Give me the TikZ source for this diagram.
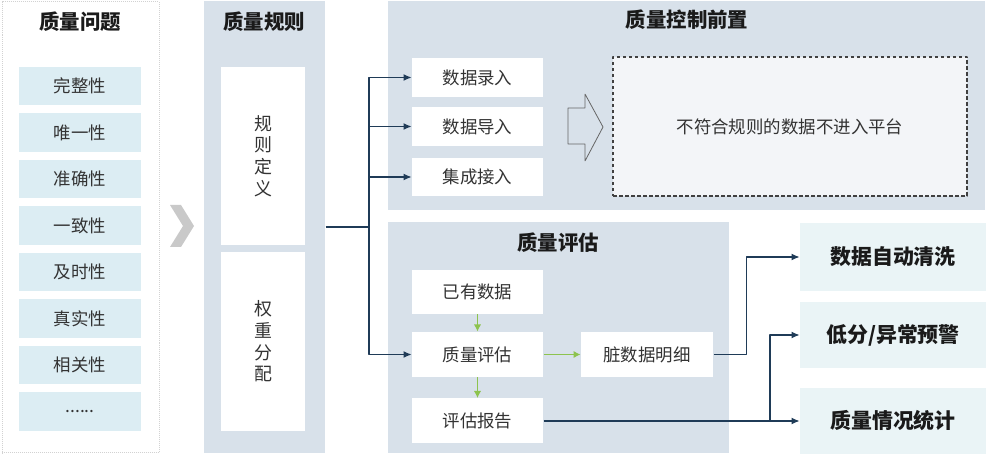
\documentclass[tikz,border=0pt]{standalone}
\usepackage{fontspec}
\setmainfont{Noto Sans CJK SC}
\usepackage{tikz}
\usetikzlibrary{shapes,arrows,arrows.meta,positioning,calc}

\definecolor{panelcol}{HTML}{D8E1EA}
\definecolor{issuecol}{HTML}{DCEDF3}
\definecolor{resultcol}{HTML}{EAF4F6}
\definecolor{dashfill}{HTML}{F3F5F8}
\definecolor{navycol}{HTML}{1F3B57}
\definecolor{greencol}{HTML}{8DC34E}
\definecolor{chevcol}{HTML}{C9C9C9}
\definecolor{textcol}{HTML}{333333}
\definecolor{titlecol}{HTML}{1A1A1A}

\begin{document}
\begin{tikzpicture}[>={Latex[length=8bp,width=7bp]},line join=bevel,
  panel/.style={fill=panelcol,draw=none,inner sep=0pt},
  titletext/.style={text=titlecol,font=\fontsize{20.5}{24}\selectfont\bfseries},
  issuebox/.style={fill=issuecol,draw=none,inner sep=0pt,minimum width=122bp,minimum height=38.5bp,text=textcol,font=\fontsize{17.5}{21}\selectfont},
  wbox/.style={fill=white,draw=none,inner sep=0pt,minimum width=131bp,text=textcol,font=\fontsize{17.5}{21}\selectfont},
  resultbox/.style={fill=resultcol,draw=none,inner sep=0pt,minimum width=186bp,text=titlecol,font=\fontsize{21}{25}\selectfont\bfseries},
  navyline/.style={draw=navycol,line width=1.1bp},
  navyarrow/.style={navyline,->},
  greenarrow/.style={draw=greencol,line width=1.4bp,-{Latex[length=7bp,width=7.5bp]}},
]
\pgfsetlinewidth{1bp}
\useasboundingbox (0bp,0bp) rectangle (987bp,456bp);

\node[draw=gray!35,densely dotted,fill=white,inner sep=0pt,minimum width=157bp,minimum height=451bp] (issuepanel) at (80.5bp,228.5bp) {};
\node[titletext] (issuetitle) at (80bp,434bp) {质量问题};
\node[issuebox] (issue1) at (80bp,370bp) {完整性};
\node[issuebox] (issue2) at (80bp,323.5bp) {唯一性};
\node[issuebox] (issue3) at (80bp,277bp) {准确性};
\node[issuebox] (issue4) at (80bp,230.5bp) {一致性};
\node[issuebox] (issue5) at (80bp,184bp) {及时性};
\node[issuebox] (issue6) at (80bp,137.5bp) {真实性};
\node[issuebox] (issue7) at (80bp,91bp) {相关性};
\node[issuebox] (issue8) at (80bp,44.5bp) {......};

\fill[chevcol] (170bp,251bp) -- (181bp,251bp) -- (194bp,230bp) -- (181bp,209bp) -- (170bp,209bp) -- (183bp,230bp) -- cycle;

\node[panel,minimum width=121bp,minimum height=452bp] (rulepanel) at (264.5bp,229bp) {};
\node[titletext] (ruletitle) at (264bp,434bp) {质量规则};
\node[wbox,minimum width=84bp,minimum height=178bp,align=center,font=\fontsize{18}{21.7}\selectfont] (ruledef) at (263bp,300bp) {规\\则\\定\\义};
\node[wbox,minimum width=84bp,minimum height=179bp,align=center,font=\fontsize{18}{21.7}\selectfont] (weight) at (263bp,114.5bp) {权\\重\\分\\配};

\node[panel,minimum width=597bp,minimum height=209bp] (prepanel) at (686.5bp,350.5bp) {};
\node[titletext] (pretitle) at (687bp,436bp) {质量控制前置};
\node[wbox,minimum height=39bp] (entry) at (477.5bp,378.5bp) {数据录入};
\node[wbox,minimum height=39bp] (import) at (477.5bp,329.5bp) {数据导入};
\node[wbox,minimum height=38bp] (integ) at (477.5bp,279bp) {集成接入};
\draw[draw=black!60,line width=0.8bp] (568bp,348bp) -- (585bp,348bp) -- (585bp,362bp) -- (603bp,329bp) -- (585bp,295bp) -- (585bp,312bp) -- (568bp,312bp) -- cycle;
\node[draw=black!75,dash pattern=on 3.5bp off 2.5bp,line width=1.1bp,fill=dashfill,inner sep=0pt,minimum width=354bp,minimum height=139bp,text=textcol,font=\fontsize{17.5}{21}\selectfont] (reject) at (790bp,329.5bp) {不符合规则的数据不进入平台};

\node[panel,minimum width=341bp,minimum height=231bp] (evalpanel) at (558.5bp,118.5bp) {};
\node[titletext] (evaltitle) at (558bp,213bp) {质量评估};
\node[wbox,minimum height=44bp] (exist) at (477.5bp,164bp) {已有数据};
\node[wbox,minimum height=45bp] (eval) at (477.5bp,101.5bp) {质量评估};
\node[wbox,minimum height=45bp] (report) at (477.5bp,35bp) {评估报告};
\node[wbox,minimum width=132bp,minimum height=45bp] (dirty) at (647bp,101.5bp) {脏数据明细};

\node[resultbox,minimum height=68bp] (clean) at (893bp,199bp) {数据自动清洗};
\node[resultbox,minimum height=66bp] (warn) at (893bp,121bp) {低分/异常预警};
\node[resultbox,minimum height=66bp] (stat) at (893bp,35bp) {质量情况统计};

\coordinate (jn) at (369bp,229bp);
\draw[navyline] (rulepanel.east) -- (jn);
\draw[navyarrow] (jn) |- (entry.west);
\draw[navyarrow] (jn) |- (import.west);
\draw[navyarrow] (jn) |- (integ.west);
\draw[navyarrow] (jn) |- (eval.west);

\draw[greenarrow] (exist.south) -- (eval.north);
\draw[greenarrow] (eval.south) -- (report.north);
\draw[greenarrow] (eval.east) -- (dirty.west);

\draw[navyarrow] (dirty.east) -- ++(33bp,0bp) |- (clean.west);
\coordinate (br) at (770bp,35bp);
\draw[navyarrow] (report.east) -- (stat.west);
\draw[navyarrow] (br) |- (warn.west);
\end{tikzpicture}
\end{document}
